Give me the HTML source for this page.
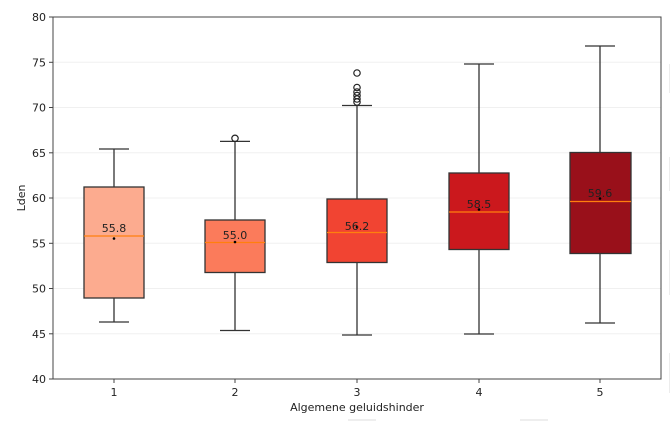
<!DOCTYPE html>
<html><head><meta charset="utf-8"><style>body{margin:0;background:#fff}svg{display:block;font-family:"DejaVu Sans","Liberation Sans",sans-serif}</style></head>
<body>
<svg width="670" height="421" viewBox="0 0 670 421" xmlns="http://www.w3.org/2000/svg">
<rect width="670" height="421" fill="#fff"/>
<g fill="#ececec"><rect x="669" y="64" width="1" height="29"/><rect x="669" y="157" width="1" height="34"/><rect x="669" y="250" width="1" height="45"/><rect x="669" y="353" width="1" height="40"/></g>
<g stroke="#f0f0f0" stroke-width="1">
<line x1="53" x2="661" y1="62.3" y2="62.3"/><line x1="53" x2="661" y1="107.5" y2="107.5"/><line x1="53" x2="661" y1="152.8" y2="152.8"/><line x1="53" x2="661" y1="198" y2="198"/><line x1="53" x2="661" y1="243.3" y2="243.3"/><line x1="53" x2="661" y1="288.5" y2="288.5"/><line x1="53" x2="661" y1="333.8" y2="333.8"/>
</g>
<g stroke="#333" stroke-width="1.3">
<line x1="114" x2="114" y1="149" y2="187"/><line x1="114" x2="114" y1="298" y2="322"/>
<line x1="99" x2="129" y1="149" y2="149"/><line x1="99" x2="129" y1="322" y2="322"/>
<rect x="84" y="187" width="60" height="111" fill="#fcab8f"/>
<line x1="235" x2="235" y1="141.4" y2="220"/><line x1="235" x2="235" y1="272.5" y2="330.5"/>
<line x1="220" x2="250" y1="141.4" y2="141.4"/><line x1="220" x2="250" y1="330.5" y2="330.5"/>
<rect x="205" y="220" width="60" height="52.5" fill="#fb7b5b"/>
<line x1="357" x2="357" y1="105.5" y2="199"/><line x1="357" x2="357" y1="262.5" y2="335"/>
<line x1="342" x2="372" y1="105.5" y2="105.5"/><line x1="342" x2="372" y1="335" y2="335"/>
<rect x="327" y="199" width="60" height="63.5" fill="#f14432"/>
<line x1="479" x2="479" y1="64" y2="173"/><line x1="479" x2="479" y1="249.5" y2="334"/>
<line x1="464" x2="494" y1="64" y2="64"/><line x1="464" x2="494" y1="334" y2="334"/>
<rect x="449" y="173" width="60" height="76.5" fill="#cb181d"/>
<line x1="600" x2="600" y1="46" y2="152.5"/><line x1="600" x2="600" y1="253.5" y2="323"/>
<line x1="585" x2="615" y1="46" y2="46"/><line x1="585" x2="615" y1="323" y2="323"/>
<rect x="570" y="152.5" width="61" height="101" fill="#99101a"/>
</g>
<g stroke="#ff7f0e" stroke-width="1.3">
<line x1="84" x2="144" y1="236" y2="236"/>
<line x1="205" x2="265" y1="242.5" y2="242.5"/>
<line x1="327" x2="387" y1="232.5" y2="232.5"/>
<line x1="449" x2="509" y1="212" y2="212"/>
<line x1="570" x2="631" y1="201.5" y2="201.5"/>
</g>
<g fill="none" stroke="#222" stroke-width="1.2">
<circle cx="235" cy="138.3" r="3.2"/>
<circle cx="357" cy="73" r="3.2"/><circle cx="357" cy="87.5" r="3.2"/><circle cx="357" cy="92" r="3.2"/><circle cx="357" cy="95.5" r="3.2"/><circle cx="357" cy="99" r="3.2"/><circle cx="357" cy="102" r="3.2"/>
</g>
<g fill="#000">
<circle cx="114" cy="238.5" r="1.3"/><circle cx="235" cy="242" r="1.3"/><circle cx="357" cy="227" r="1.3"/><circle cx="479" cy="209.5" r="1.3"/><circle cx="600" cy="198.5" r="1.3"/>
</g>
<g font-size="11" fill="#222" text-anchor="middle">
<text x="114" y="232">55.8</text><text x="235" y="239">55.0</text><text x="357" y="230">56.2</text><text x="479" y="208">58.5</text><text x="600" y="197">59.6</text>
</g>
<rect x="53" y="17" width="608" height="362" fill="none" stroke="#444" stroke-width="1"/>
<g stroke="#444" stroke-width="1">
<line x1="49" x2="53" y1="17" y2="17"/><line x1="49" x2="53" y1="62.3" y2="62.3"/><line x1="49" x2="53" y1="107.5" y2="107.5"/><line x1="49" x2="53" y1="152.8" y2="152.8"/><line x1="49" x2="53" y1="198" y2="198"/><line x1="49" x2="53" y1="243.3" y2="243.3"/><line x1="49" x2="53" y1="288.5" y2="288.5"/><line x1="49" x2="53" y1="333.8" y2="333.8"/><line x1="49" x2="53" y1="379" y2="379"/>
<line x1="114" x2="114" y1="379" y2="383"/><line x1="235" x2="235" y1="379" y2="383"/><line x1="357" x2="357" y1="379" y2="383"/><line x1="479" x2="479" y1="379" y2="383"/><line x1="600" x2="600" y1="379" y2="383"/>
</g>
<g font-size="11" fill="#222" text-anchor="end">
<text x="46" y="21">80</text><text x="46" y="66.3">75</text><text x="46" y="111.5">70</text><text x="46" y="156.8">65</text><text x="46" y="202">60</text><text x="46" y="247.3">55</text><text x="46" y="292.5">50</text><text x="46" y="337.8">45</text><text x="46" y="383">40</text>
</g>
<g font-size="11" fill="#222" text-anchor="middle">
<text x="114" y="396">1</text><text x="235" y="396">2</text><text x="357" y="396">3</text><text x="479" y="396">4</text><text x="600" y="396">5</text>
<text x="357" y="411">Algemene geluidshinder</text>
<text transform="translate(25,198) rotate(-90)">Lden</text>
</g>
<rect x="348" y="419" width="28" height="2" fill="#eee"/><rect x="520" y="419" width="28" height="2" fill="#eee"/>
</svg>
</body></html>
